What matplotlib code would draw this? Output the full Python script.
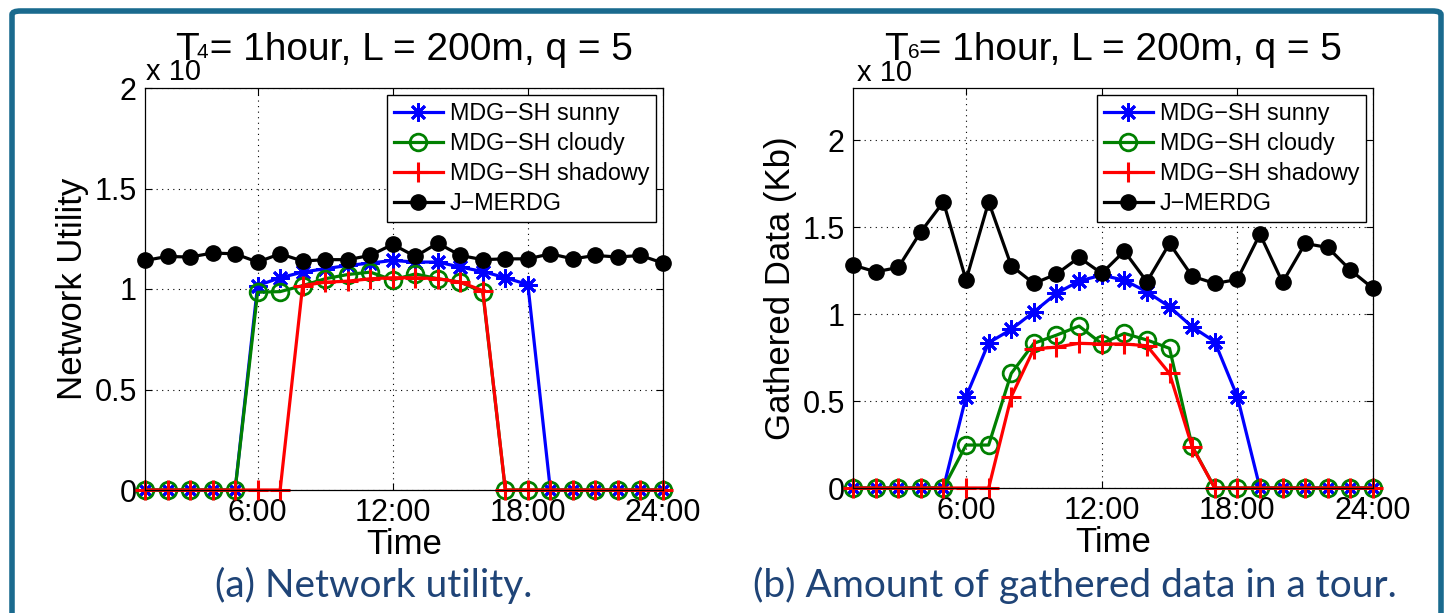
import numpy as np
import matplotlib.pyplot as plt
from matplotlib.patches import FancyBboxPatch

# hours of the day
hours = np.arange(1, 25)
xticks = [6, 12, 18, 24]
xticklabels = ['6:00', '12:00', '18:00', '24:00']
labels = ['MDG\u2212SH sunny', 'MDG\u2212SH cloudy', 'MDG\u2212SH shadowy', 'J\u2212MERDG']

# (a) network utility, x 1e4
util_sunny = [0, 0, 0, 0, 0, 1.017, 1.056, 1.084, 1.101, 1.117, 1.129, 1.142,
              1.134, 1.134, 1.109, 1.087, 1.056, 1.022, 0, 0, 0, 0, 0, 0]
util_cloudy = [0, 0, 0, 0, 0, 0.984, 0.987, 1.017, 1.051, 1.072, 1.084, 1.045,
               1.075, 1.051, 1.034, 0.984, 0, 0, 0, 0, 0, 0, 0, 0]
util_shadowy = [0, 0, 0, 0, 0, 0, 0, 1.017, 1.034, 1.039, 1.051, 1.056,
                1.056, 1.051, 1.034, 0.992, 0, 0, 0, 0, 0, 0, 0, 0]
util_jmerdg = [1.142, 1.162, 1.159, 1.179, 1.175, 1.134, 1.175, 1.139, 1.146, 1.146,
               1.167, 1.222, 1.162, 1.228, 1.167, 1.146, 1.150, 1.150, 1.175, 1.150,
               1.167, 1.159, 1.167, 1.129]

# (b) gathered data, x 1e6 Kb
data_sunny = [0, 0, 0, 0, 0, 0.525, 0.835, 0.912, 1.013, 1.119, 1.190, 1.224,
              1.195, 1.128, 1.042, 0.927, 0.841, 0.525, 0, 0, 0, 0, 0, 0]
data_cloudy = [0, 0, 0, 0, 0, 0.247, 0.247, 0.659, 0.832, 0.879, 0.931, 0.830,
               0.889, 0.851, 0.803, 0.241, 0, 0, 0, 0, 0, 0, 0, 0]
data_shadowy = [0, 0, 0, 0, 0, 0, 0, 0.525, 0.800, 0.810, 0.832, 0.828,
                0.828, 0.818, 0.659, 0.237, 0, 0, 0, 0, 0, 0, 0, 0]
data_jmerdg = [1.282, 1.243, 1.268, 1.473, 1.645, 1.195, 1.645, 1.278, 1.176, 1.230,
               1.326, 1.234, 1.362, 1.186, 1.406, 1.218, 1.176, 1.199, 1.460, 1.182,
               1.406, 1.383, 1.253, 1.148]

W, H = 1446, 613
fig = plt.figure(figsize=(W / 100, H / 100), dpi=100)
plt.rcParams['font.family'] = ['Liberation Sans', 'DejaVu Sans']

# slide frame
frame = FancyBboxPatch((12 / W, -0.2), 1429 / W, 1.2 - 11 / H,
                       boxstyle='round,pad=0,rounding_size=0.006',
                       transform=fig.transFigure, fill=False,
                       edgecolor='#1a6a8e', lw=4, zorder=0)
fig.patches.append(frame)


def draw(ax, series, ylim, yticks, yticklabels, ylabel):
    styles = [dict(color='#0000ff', marker=(8, 2, 0), ms=13, mew=2),
              dict(color='#008000', marker='o', mfc='none', ms=12, mew=2),
              dict(color='#ff0000', marker='+', ms=14, mew=2.2),
              dict(color='black', marker='o', mfc='black', ms=11, mew=1)]
    for s, st, lab in zip(series, styles, labels):
        ax.plot(hours, s, lw=2.3, label=lab, clip_on=False, **st)
    ax.set_xlim(1, 24)
    ax.set_ylim(*ylim)
    ax.set_xticks(xticks)
    ax.set_xticklabels(xticklabels)
    ax.set_yticks(yticks)
    ax.set_yticklabels(yticklabels)
    ax.tick_params(direction='in', top=True, right=True, labelsize=22,
                   length=5, width=0.8, pad=6)
    ax.grid(True, linestyle=(0, (1, 4)), color='black', lw=0.8)
    for sp in ax.spines.values():
        sp.set_linewidth(0.9)
    ax.set_xlabel('Time', fontsize=25, labelpad=0)
    ax.set_ylabel(ylabel, fontsize=25, labelpad=4)
    ax.set_title('T = 1hour, L = 200m, q = 5', fontsize=28, pad=20)
    leg = ax.legend(loc='upper right', fontsize=16.8, fancybox=False,
                    framealpha=1, edgecolor='black', borderaxespad=0.3,
                    handlelength=2.1, handletextpad=0.3, labelspacing=0.3,
                    borderpad=0.3)
    leg.get_frame().set_linewidth(1.0)


ax1 = fig.add_axes([145 / W, 1 - 490 / H, 518 / W, 402 / H])
draw(ax1, [util_sunny, util_cloudy, util_shadowy, util_jmerdg], (0, 2),
     [0, 0.5, 1, 1.5, 2], ['0', '0.5', '1', '1.5', '2'], 'Network Utility')

ax2 = fig.add_axes([853 / W, 1 - 488 / H, 520 / W, 400 / H])
draw(ax2, [data_sunny, data_cloudy, data_shadowy, data_jmerdg], (0, 2.3),
     [0, 0.5, 1, 1.5, 2], ['0', '0.5', '1', '1.5', '2'], 'Gathered Data (Kb)')

# MATLAB style exponent labels
fig.text(146 / W, 1 - 80 / H, 'x 10', fontsize=21, va='baseline')
fig.text(197 / W, 1 - 58 / H, '4', fontsize=15, va='baseline')
fig.text(857 / W, 1 - 81 / H, 'x 10', fontsize=21, va='baseline')
fig.text(908 / W, 1 - 58 / H, '6', fontsize=15, va='baseline')

# captions
cap = dict(fontsize=28, color='#1f4477', ha='center', va='center',
           family=['Lato', 'DejaVu Sans'])
fig.text(374 / W, 1 - 585 / H, '(a) Network utility.', **cap)
fig.text(1075 / W, 1 - 585 / H, '(b) Amount of gathered data in a tour.', **cap)

fig.savefig('out.png', dpi=100)
